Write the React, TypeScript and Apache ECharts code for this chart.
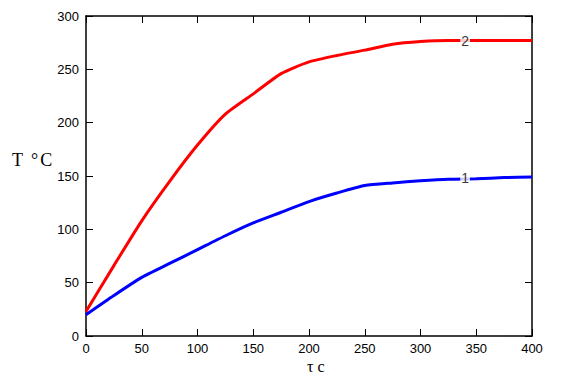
import React, { useEffect, useRef } from "react";
import * as echarts from "echarts";

const tau = [0, 25, 50, 75, 100, 125, 150, 175, 200, 225, 250, 275, 300, 325, 350, 375, 400];
const curve1 = [20, 38, 55, 68, 81, 94, 106, 116, 126, 134, 141, 143.5, 145.5, 147, 147.5, 148.5, 149];
const curve2 = [23, 66, 108, 145, 179, 208, 227, 246, 257, 263, 268, 273.5, 276, 277, 277, 277, 277];
const curveLabels = [
  { name: "1", x: 340, y: 148 },
  { name: "2", x: 340, y: 277 },
];
const xTicks = { min: 0, max: 400, interval: 50 };
const yTicks = { min: 0, max: 300, interval: 50 };

export default function App() {
  const ref = useRef<HTMLDivElement>(null);
  useEffect(() => {
    const chart = echarts.init(ref.current!, null, { renderer: "svg" });
    const axisLine = { show: true, onZero: false, lineStyle: { color: "#000", width: 1.5 } };
    const tick = { show: true, inside: true, length: 7, lineStyle: { color: "#000", width: 1 } };
    const lbl = { color: "#000", fontFamily: "Liberation Sans, Arial, sans-serif", fontSize: 13 };
    const serif = "'Liberation Serif', 'Times New Roman', serif";
    chart.setOption({
      animation: false,
      backgroundColor: "#fff",
      grid: { left: 86, top: 16, right: 30, bottom: 40, containLabel: false },
      xAxis: [
        {
          type: "value", position: "bottom", ...xTicks,
          axisLine, axisTick: tick, splitLine: { show: false },
          axisLabel: { ...lbl, margin: 6 },
        },
        {
          type: "value", position: "top", ...xTicks,
          axisLine, axisTick: tick, splitLine: { show: false },
          axisLabel: { show: false },
        },
      ],
      yAxis: [
        {
          type: "value", position: "left", ...yTicks,
          axisLine, axisTick: tick, splitLine: { show: false },
          axisLabel: { ...lbl, margin: 7 },
        },
        {
          type: "value", position: "right", ...yTicks,
          axisLine, axisTick: tick, splitLine: { show: false },
          axisLabel: { show: false },
        },
      ],
      graphic: [
        {
          type: "text", left: 12, top: 151,
          style: {
            text: "{a|T}{b|°}{a|C}",
            rich: {
              a: { fontSize: 18, fontFamily: serif, fill: "#000", color: "#000" },
              b: { fontSize: 18, fontFamily: serif, fill: "#000", color: "#000", padding: [0, 2, 0, 8], verticalAlign: "top" },
            },
          },
        },
        {
          type: "text", left: 307, top: 358,
          style: { text: "τ c", fill: "#000", font: "16px " + serif },
        },
      ],
      series: [
        {
          type: "line", name: "1", data: tau.map((t, i) => [t, curve1[i]]), smooth: 0.2,
          showSymbol: false, lineStyle: { color: "#0000ff", width: 3 }, itemStyle: { color: "#0000ff" }, z: 2,
        },
        {
          type: "line", name: "2", data: tau.map((t, i) => [t, curve2[i]]), smooth: 0.2,
          showSymbol: false, lineStyle: { color: "#ff0000", width: 3 }, itemStyle: { color: "#ff0000" }, z: 2,
        },
        {
          type: "scatter", symbolSize: 0, z: 5,
          data: curveLabels.map((c) => ({ name: c.name, value: [c.x, c.y] })),
          label: {
            show: true, position: "inside", formatter: "{b}", color: "#000",
            fontFamily: "Liberation Sans, Arial, sans-serif", fontSize: 14,
            backgroundColor: "#fff", padding: [0, 1],
          },
        },
      ],
    });
    return () => chart.dispose();
  }, []);
  return <div ref={ref} style={{ width: 562, height: 376, position: "absolute", left: 0, top: 0 }} />;
}
